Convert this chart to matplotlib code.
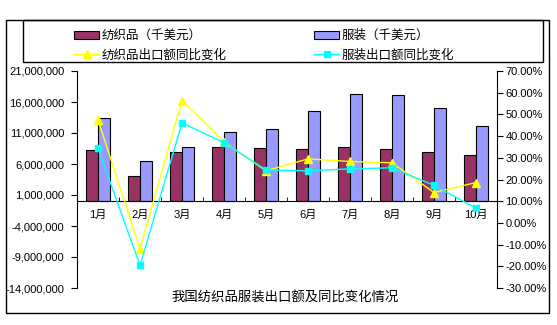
import matplotlib
matplotlib.use("Agg")
import matplotlib.pyplot as plt
import numpy as np
from matplotlib.patches import Rectangle
from matplotlib.ticker import FuncFormatter, FixedLocator

plt.rcParams['font.family'] = ['Liberation Sans', 'Noto Sans CJK SC']

# 月份
months = ['1月', '2月', '3月', '4月', '5月', '6月', '7月', '8月', '9月', '10月']
# 出口额（千美元）
textile = [8.3e6, 4.1e6, 8.0e6, 8.8e6, 8.6e6, 8.4e6, 8.75e6, 8.4e6, 8.0e6, 7.5e6]
apparel = [13.4e6, 6.5e6, 8.8e6, 11.2e6, 11.65e6, 14.5e6, 17.3e6, 17.1e6, 15.1e6, 12.1e6]
# 同比变化
textile_yoy = [0.475, -0.119, 0.564, 0.373, 0.240, 0.295, 0.283, 0.277, 0.140, 0.186]
apparel_yoy = [0.344, -0.196, 0.461, 0.370, 0.244, 0.240, 0.249, 0.254, 0.173, 0.068]

fig = plt.figure(figsize=(5.57, 3.25), dpi=100)

# 外框和图例框
fig.patches.append(Rectangle((6/557, 1-313/325), 543/557, 293/325, transform=fig.transFigure,
                             fill=False, edgecolor='black', linewidth=1))
fig.patches.append(Rectangle((23/557, 1-62/325), 520/557, 42/325, transform=fig.transFigure,
                             fill=False, edgecolor='black', linewidth=1))

ax = fig.add_axes([77/557, 1-288/325, 420/557, 217/325])
x = np.arange(len(months))
w = 0.29
b1 = ax.bar(x - w/2, textile, w, color='#993366', edgecolor='black', linewidth=0.8)
b2 = ax.bar(x + w/2, apparel, w, color='#9999FF', edgecolor='black', linewidth=0.8)

ax.set_xlim(-0.5, len(months) - 0.5)
ax.set_ylim(-14e6, 21e6)
ax.set_yticks(np.arange(-14e6, 21e6 + 1, 5e6))
ax.yaxis.set_major_formatter(FuncFormatter(lambda v, p: f'{int(round(v)):,}'))
ax.spines['top'].set_visible(False)
ax.spines['right'].set_visible(False)
ax.spines['bottom'].set_position(('data', 0))
ax.set_xticks(x)
ax.set_xticklabels(months)
ax.tick_params(axis='x', length=0, pad=6, labelsize=8)
ax.xaxis.set_minor_locator(FixedLocator(np.arange(0.5, len(months) - 1, 1)))
ax.tick_params(axis='x', which='minor', direction='in', length=3)
ax.tick_params(axis='y', length=4, labelsize=8, pad=5)

ax2 = ax.twinx()
l1, = ax2.plot(x, textile_yoy, color='#FFFF00', marker='^', markersize=6, linewidth=1)
l2, = ax2.plot(x, apparel_yoy, color='#00FFFF', marker='s', markersize=5, linewidth=1)
ax2.set_ylim(-0.3, 0.7)
ax2.set_yticks(np.arange(-0.3, 0.71, 0.1))
ax2.yaxis.set_major_formatter(FuncFormatter(lambda v, p: f'{v*100:.2f}%'))
ax2.spines['top'].set_visible(False)
ax2.spines['left'].set_visible(False)
ax2.spines['bottom'].set_visible(False)
ax2.tick_params(axis='y', length=4, labelsize=8, pad=2)

fig.legend([b1, l1, b2, l2], ['纺织品（千美元）', '纺织品出口额同比变化', '服装（千美元）', '服装出口额同比变化'],
           ncol=2, loc='upper left', bbox_to_anchor=(64/557, 1-20/325),
           fontsize=9, frameon=False, handlelength=2.0, handleheight=0.6,
           handletextpad=0.2, borderpad=0.3, labelspacing=0.55, columnspacing=7.0)

fig.text(285/557, 1-298/325, '我国纺织品服装出口额及同比变化情况', ha='center', va='center', fontsize=9.6)

fig.savefig('out.png', dpi=100)
